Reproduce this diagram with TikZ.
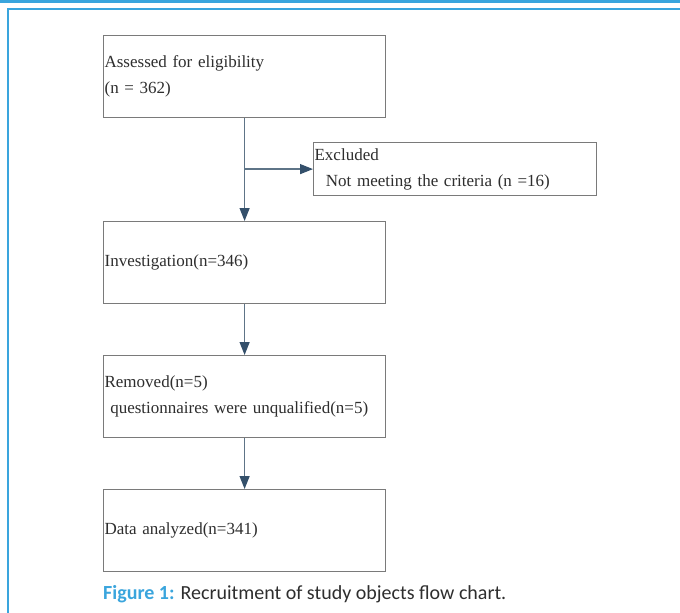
\documentclass[tikz,border=0pt]{standalone}
\usepackage{fontspec}
\setmainfont[WordSpace=0.8]{Liberation Serif}
\newfontfamily\capfont{Carlito}
\usetikzlibrary{arrows.meta}
\definecolor{frameblue}{HTML}{3AA5DD}
\definecolor{boxgray}{HTML}{7A7A7A}
\definecolor{arrowcol}{HTML}{34506B}
\definecolor{linecol}{HTML}{5E7487}
\definecolor{txtgray}{HTML}{2E2E2E}
\tikzset{
  fbox/.style={draw=boxgray, line width=1.2pt, minimum width=282pt, minimum height=82pt,
    text width=280pt, inner xsep=1pt, inner ysep=0pt, align=left, anchor=north west,
    text=txtgray, font=\fontsize{17}{26}\selectfont},
  flowline/.style={draw=linecol, line width=1.3pt,
    -{Triangle[length=13pt,width=10pt,color=arrowcol,fill=arrowcol]}},
  framel/.style={draw=frameblue, line width=2pt}
}
\begin{document}
\begin{tikzpicture}[x=1pt,y=-1pt]
\useasboundingbox (0,0) rectangle (680,613);
\fill[white] (0,0) rectangle (680,613);
\draw[framel, line width=2.5pt] (0,1.5) -- (680,1.5);
\draw[framel] (8,613) -- (8,9) -- (680,9);
\node[fbox] (b1) at (103,35) {Assessed for eligibility\\(n = 362)};
\node[fbox, minimum width=283pt, minimum height=53pt, text width=281pt] (ex) at (313,142) {Excluded\\\ \ Not meeting the criteria (n =16)};
\node[fbox] (b2) at (103,221) {Investigation(n=346)};
\node[fbox] (b3) at (103,355) {Removed(n=5)\\\ questionnaires were unqualified(n=5)};
\node[fbox] (b4) at (103,489) {Data analyzed(n=341)};
\coordinate (br) at (b1.south |- ex.west);
\draw[flowline] (b1) -- (b2);
\draw[flowline] (br) -- (ex.west);
\draw[flowline] (b2) -- (b3);
\draw[flowline] (b3) -- (b4);
\node[anchor=base west, inner sep=0pt, font=\capfont\fontsize{20}{22}\selectfont, text=txtgray] (cap) at (103,599)
  {\textcolor{frameblue}{\bfseries Figure 1:} Recruitment of study objects flow chart.};
\end{tikzpicture}
\end{document}
